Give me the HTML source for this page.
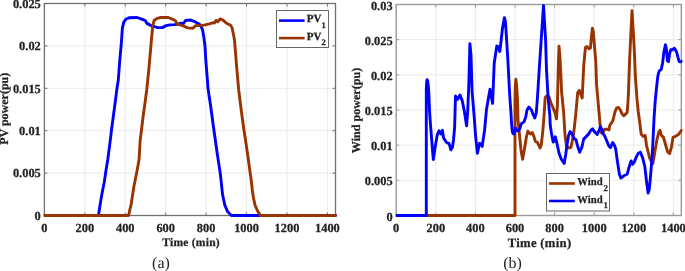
<!DOCTYPE html>
<html><head><meta charset="utf-8"><style>
html,body{margin:0;padding:0;background:#fff;width:685px;height:271px;overflow:hidden}
svg{display:block;will-change:transform}
text{font-family:"Liberation Serif",serif;fill:#222;text-rendering:geometricPrecision}
.b{font-weight:bold;stroke:#2a2a2a;stroke-width:0.25px} .t{font-size:12.4px}
</style></head><body>
<svg width="685" height="271" viewBox="0 0 685 271">
<rect width="685" height="271" fill="#fff"/>
<defs><clipPath id="c1"><rect x="43.8" y="0" width="293.3" height="230"/></clipPath>
<clipPath id="c2"><rect x="395.8" y="0" width="287.1" height="230"/></clipPath></defs>
<path d="M84.83 3.5V215.5 M125.26 3.5V215.5 M165.69 3.5V215.5 M206.12 3.5V215.5 M246.55 3.5V215.5 M286.98 3.5V215.5 M327.41 3.5V215.5 M44.4 173.10H335.5 M44.4 130.70H335.5 M44.4 88.30H335.5 M44.4 45.90H335.5" stroke="#e6e6e6" stroke-width="0.8" fill="none"/>
<path d="M435.80 4.5V215.5 M475.39 4.5V215.5 M514.99 4.5V215.5 M554.59 4.5V215.5 M594.19 4.5V215.5 M633.78 4.5V215.5 M673.38 4.5V215.5 M396.2 180.33H681.3 M396.2 145.17H681.3 M396.2 110.00H681.3 M396.2 74.83H681.3 M396.2 39.67H681.3" stroke="#e6e6e6" stroke-width="0.8" fill="none"/>
<path d="M44.40 215.5v-3M44.40 3.5v3 M84.83 215.5v-3M84.83 3.5v3 M125.26 215.5v-3M125.26 3.5v3 M165.69 215.5v-3M165.69 3.5v3 M206.12 215.5v-3M206.12 3.5v3 M246.55 215.5v-3M246.55 3.5v3 M286.98 215.5v-3M286.98 3.5v3 M327.41 215.5v-3M327.41 3.5v3 M44.4 215.50h3M335.5 215.50h-3 M44.4 173.10h3M335.5 173.10h-3 M44.4 130.70h3M335.5 130.70h-3 M44.4 88.30h3M335.5 88.30h-3 M44.4 45.90h3M335.5 45.90h-3 M44.4 3.50h3M335.5 3.50h-3" stroke="#707070" stroke-width="1" fill="none"/>
<rect x="44.4" y="3.5" width="291.10" height="212.0" stroke="#707070" stroke-width="1.3" fill="none"/>
<path d="M396.20 215.5v-3M396.20 4.5v3 M435.80 215.5v-3M435.80 4.5v3 M475.39 215.5v-3M475.39 4.5v3 M514.99 215.5v-3M514.99 4.5v3 M554.59 215.5v-3M554.59 4.5v3 M594.19 215.5v-3M594.19 4.5v3 M633.78 215.5v-3M633.78 4.5v3 M673.38 215.5v-3M673.38 4.5v3 M396.2 215.50h3M681.3 215.50h-3 M396.2 180.33h3M681.3 180.33h-3 M396.2 145.17h3M681.3 145.17h-3 M396.2 110.00h3M681.3 110.00h-3 M396.2 74.83h3M681.3 74.83h-3 M396.2 39.67h3M681.3 39.67h-3 M396.2 4.50h3M681.3 4.50h-3" stroke="#9a9a9a" stroke-width="1" fill="none"/>
<rect x="396.2" y="4.5" width="285.10" height="211.0" stroke="#9a9a9a" stroke-width="1.4" fill="none"/>
<g fill="none" stroke-width="2.9" stroke-linejoin="round" stroke-linecap="round">
<g clip-path="url(#c1)">
<polyline points="44.4,215.5 98.4,215.5 99.3,210.0 100.2,204.0 102.1,193.0 104.3,182.0 105.9,171.0 107.7,160.0 109.7,145.0 111.5,130.0 113.5,115.0 115.5,100.0 117.0,88.3 118.3,80.0 119.8,60.0 121.2,45.0 122.4,27.9 123.9,21.9 126.1,19.0 129.0,17.8 137.2,17.5 142.3,19.3 145.3,20.5 146.8,23.4 151.2,25.6 157.8,27.6 162.3,27.6 166.0,25.6 170.0,24.9 174.4,24.6 178.1,24.2 181.1,23.1 183.3,23.7 185.5,20.5 190.7,20.0 195.8,22.2 199.5,24.2 201.0,26.4 202.6,30.0 203.8,37.0 205.0,46.0 205.8,60.0 207.4,80.0 208.0,88.5 210.5,105.0 213.9,130.0 217.0,152.0 220.2,173.0 221.0,180.0 222.6,194.8 224.8,205.1 227.7,211.8 231.4,215.5 335.5,215.5" stroke="#0000ff"/>
<polyline points="44.4,215.5 128.6,215.5 129.8,210.0 131.2,204.0 134.0,186.0 136.6,173.0 139.0,160.0 140.2,140.0 141.5,130.0 143.3,115.0 145.0,103.0 146.7,90.0 148.8,70.0 150.9,46.0 151.6,38.0 152.7,26.4 154.1,20.5 157.1,18.3 160.8,17.5 168.2,17.5 171.1,18.7 175.2,20.5 177.4,24.2 182.6,25.6 187.7,27.9 192.9,28.2 195.8,25.6 201.0,25.6 205.0,24.9 209.4,23.8 213.3,22.7 214.4,23.1 216.1,20.4 217.7,21.8 220.0,19.0 222.7,19.8 225.5,22.3 227.7,24.0 230.5,25.1 232.1,27.9 233.2,33.3 234.5,40.0 235.0,46.0 236.5,65.0 238.7,90.0 241.2,110.0 244.0,130.5 245.5,140.0 248.0,157.0 250.2,173.0 251.2,180.0 252.3,190.0 253.5,198.0 255.0,205.0 257.6,211.0 260.5,215.5 335.5,215.5" stroke="#993300"/>
</g>
<g clip-path="url(#c2)">
<polyline points="426.3,215.5 515.0,215.5 515.0,100.0 515.3,86.0 515.9,79.3 516.7,87.0 517.5,100.0 518.0,120.0 519.5,135.0 521.0,150.0 522.6,159.3 524.3,150.0 526.4,137.0 527.9,131.1 529.4,133.3 530.8,134.0 532.3,132.5 533.8,136.2 535.3,141.4 537.2,142.1 538.7,145.1 540.1,148.0 541.2,145.1 542.6,133.3 544.1,115.0 545.2,97.5 546.6,95.9 548.9,96.6 551.1,103.3 554.8,112.1 556.5,118.8 557.4,105.0 558.2,70.0 559.0,46.1 560.0,58.0 561.0,78.0 561.6,92.0 563.6,112.0 565.0,135.0 566.5,146.0 569.0,148.0 571.0,147.3 573.5,134.8 575.7,115.0 577.7,92.6 579.3,90.4 581.0,95.0 582.2,98.0 583.7,66.0 585.0,52.0 585.5,47.3 587.0,46.6 588.9,48.8 590.4,48.0 591.4,37.7 592.4,28.1 593.3,31.8 594.4,45.1 595.8,62.0 596.5,83.8 598.8,110.0 600.1,124.8 601.3,132.9 602.4,133.6 604.6,129.2 606.8,129.2 609.0,129.9 609.7,125.5 611.2,123.3 612.8,120.8 615.0,111.9 616.6,108.0 618.6,107.5 620.5,110.3 622.2,114.1 623.8,115.8 625.5,114.1 627.1,112.5 627.8,105.0 628.5,92.0 629.5,62.0 630.8,35.0 632.0,10.6 633.5,35.0 634.5,55.0 635.4,77.1 637.0,99.2 638.3,112.0 639.7,122.2 641.2,134.3 643.2,136.4 645.2,135.4 646.5,145.3 649.7,158.2 651.5,162.0 652.9,163.4 654.2,156.0 655.5,147.9 657.0,139.5 658.7,132.3 660.0,130.3 661.4,135.4 663.5,137.4 665.5,144.5 667.5,151.6 669.6,153.6 671.6,146.5 673.0,137.4 675.6,136.4 678.7,134.3 681.3,130.5" stroke="#993300"/>
<polyline points="396.2,215.5 426.3,215.5 426.3,90.0 426.6,82.5 427.1,79.6 427.7,81.0 428.5,88.0 429.0,97.0 429.6,112.0 430.3,122.0 431.3,134.8 433.3,159.5 435.5,145.0 437.3,134.8 439.0,130.8 440.8,134.1 442.4,130.3 443.6,138.0 446.5,142.5 449.1,143.6 450.9,149.8 452.5,147.0 453.5,140.0 454.6,127.7 455.5,96.0 457.7,99.4 460.0,95.0 462.2,100.5 464.4,111.5 466.6,125.9 467.7,111.5 468.8,85.0 469.9,43.7 471.0,55.0 472.1,91.6 474.3,118.2 475.5,135.0 477.4,153.3 479.6,143.3 480.8,143.8 482.2,146.4 484.6,130.0 486.5,109.3 490.0,89.2 492.6,103.4 494.2,63.2 496.8,46.0 498.0,46.5 499.8,51.5 501.2,40.0 502.4,28.8 504.4,17.7 505.5,22.1 506.6,39.8 507.7,57.0 509.7,95.0 511.1,115.0 511.6,124.5 512.5,132.5 513.5,134.0 515.0,130.0 515.6,128.1 516.8,130.4 518.0,131.1 519.8,128.9 521.2,123.8 522.5,123.0 524.2,121.5 525.7,117.1 527.1,109.8 528.9,107.1 531.3,109.8 533.0,114.2 534.8,117.9 536.3,112.7 537.5,97.0 539.5,65.0 541.2,40.0 543.5,5.4 545.6,40.0 546.5,70.0 548.2,99.2 549.8,115.0 550.2,125.0 551.6,133.9 553.1,142.0 554.2,141.2 555.3,136.8 556.8,142.7 559.0,153.0 561.2,159.0 564.2,163.4 565.7,154.5 567.1,144.2 568.6,135.3 570.1,131.6 571.6,133.1 573.8,138.3 576.0,139.8 577.5,145.7 579.7,152.3 581.9,147.1 583.7,139.0 586.1,136.6 588.3,134.4 590.5,130.7 592.5,128.9 594.2,131.4 597.2,134.4 598.7,131.4 600.4,126.5 601.6,129.2 603.1,133.6 604.6,135.8 606.8,141.0 609.0,146.2 610.5,147.6 612.7,142.5 614.2,144.7 615.6,148.4 617.2,159.9 619.4,174.3 620.9,178.1 623.8,175.8 627.1,174.3 629.3,166.5 631.1,161.0 632.7,164.3 634.2,162.1 636.0,157.7 638.2,153.3 640.4,152.2 642.6,157.7 644.8,166.5 646.6,182.0 648.1,193.1 649.2,189.8 650.4,177.6 651.5,164.3 652.6,148.8 654.1,117.0 655.3,100.0 656.3,90.0 657.6,78.0 658.5,73.0 659.6,70.5 661.1,69.7 662.6,63.1 664.0,51.2 665.5,44.6 666.5,49.8 667.4,60.8 668.5,61.6 669.5,54.2 670.7,49.8 672.2,49.8 674.4,48.3 676.6,52.0 678.1,57.9 679.2,61.6 680.3,61.9 681.3,61.3" stroke="#0000ff"/>
</g>
</g>
<g class="b t">
<text x="44.40" y="232" text-anchor="middle">0</text>
<text x="84.83" y="232" text-anchor="middle">200</text>
<text x="125.26" y="232" text-anchor="middle">400</text>
<text x="165.69" y="232" text-anchor="middle">600</text>
<text x="206.12" y="232" text-anchor="middle">800</text>
<text x="246.55" y="232" text-anchor="middle">1000</text>
<text x="286.98" y="232" text-anchor="middle">1200</text>
<text x="327.41" y="232" text-anchor="middle">1400</text>
<text x="40.8" y="219.80" text-anchor="end">0</text>
<text x="40.8" y="177.40" text-anchor="end">0.005</text>
<text x="40.8" y="135.00" text-anchor="end">0.01</text>
<text x="40.8" y="92.60" text-anchor="end">0.015</text>
<text x="40.8" y="50.20" text-anchor="end">0.02</text>
<text x="40.8" y="7.80" text-anchor="end">0.025</text>
<text x="396.20" y="232" text-anchor="middle">0</text>
<text x="435.80" y="232" text-anchor="middle">200</text>
<text x="475.39" y="232" text-anchor="middle">400</text>
<text x="514.99" y="232" text-anchor="middle">600</text>
<text x="554.59" y="232" text-anchor="middle">800</text>
<text x="594.19" y="232" text-anchor="middle">1000</text>
<text x="633.78" y="232" text-anchor="middle">1200</text>
<text x="673.38" y="232" text-anchor="middle">1400</text>
<text x="392.6" y="220.50" text-anchor="end">0</text>
<text x="392.6" y="185.33" text-anchor="end">0.005</text>
<text x="392.6" y="150.17" text-anchor="end">0.01</text>
<text x="392.6" y="115.00" text-anchor="end">0.015</text>
<text x="392.6" y="79.83" text-anchor="end">0.02</text>
<text x="392.6" y="44.67" text-anchor="end">0.025</text>
<text x="392.6" y="9.50" text-anchor="end">0.03</text>
</g>
<g class="b">
<text x="191.1" y="246.4" text-anchor="middle" font-size="11.6" letter-spacing="0.22">Time (min)</text>
<text x="539.6" y="246.6" text-anchor="middle" font-size="12.7" letter-spacing="0.3">Time (min)</text>
<text transform="translate(8.2,108.8) rotate(-90)" text-anchor="middle" font-size="12">PV power(pu)</text>
<text transform="translate(359.8,110.5) rotate(-90)" text-anchor="middle" font-size="12.1">Wind power(pu)</text>
</g>
<text x="161" y="267.6" text-anchor="middle" font-size="16">(a)</text>
<text x="512.6" y="267.6" text-anchor="middle" font-size="16">(b)</text>
<!-- legend 1 -->
<rect x="276.5" y="10.5" width="52" height="37" fill="#fff" stroke="#666" stroke-width="1"/>
<path d="M279 20.6H304.6" stroke="#0000ff" stroke-width="2.6"/>
<path d="M279 38.1H304.6" stroke="#993300" stroke-width="2.6"/>
<g class="b" font-size="11"><text x="306.8" y="22.4">PV</text><text x="321.5" y="27.6" font-size="8.5">1</text>
<text x="306.8" y="39.9">PV</text><text x="321.5" y="45.1" font-size="8.5">2</text></g>
<!-- legend 2 -->
<rect x="546.5" y="173.5" width="63" height="37.5" fill="#fff" stroke="#666" stroke-width="1"/>
<path d="M549 183.5H574.8" stroke="#993300" stroke-width="2.6"/>
<path d="M549 201H574.8" stroke="#0000ff" stroke-width="2.6"/>
<g class="b" font-size="10.7"><text x="577.3" y="185">Wind</text><text x="603.4" y="190.6" font-size="8.8">2</text>
<text x="577.3" y="202.6">Wind</text><text x="603.4" y="208.2" font-size="8.8">1</text></g>
</svg>
</body></html>
